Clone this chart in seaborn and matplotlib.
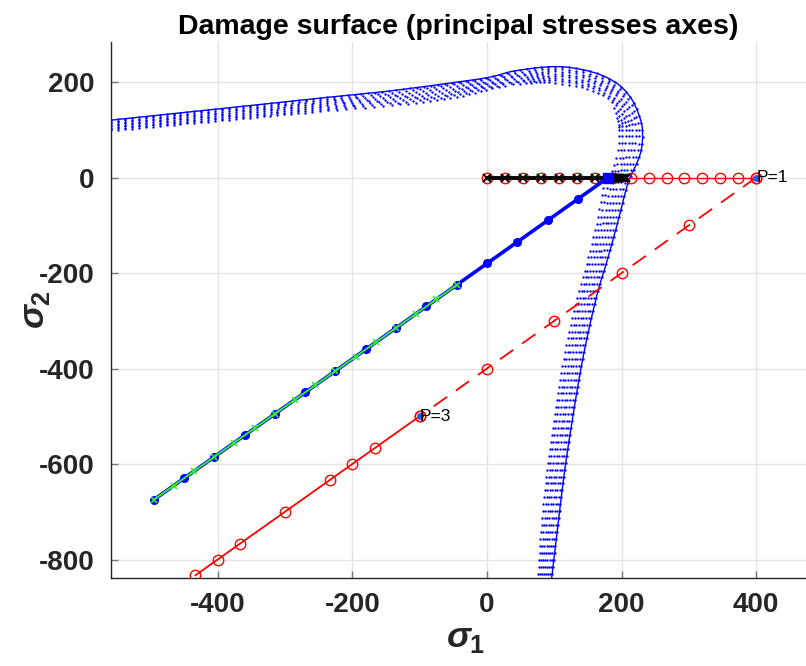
import numpy as np
import pandas as pd
import matplotlib
matplotlib.use("Agg")
import matplotlib.pyplot as plt
import seaborn as sns

# ---------------- data ----------------
# damage surface: outer boundary (solid line) and inner edge of the dotted band
surf_outer_x = [-600, -450, -350, -250, -158, -80, 0, 40, 93, 130, 167, 195, 214, 226, 231, 229, 220, 209,
                194, 177, 165, 151, 139, 127, 116, 106, 96, 93]
surf_outer_y = [114, 136, 151, 166, 179, 193, 209, 223, 232, 229, 216, 195, 166, 130, 98, 57, 22, -13,
                -95, -181, -237, -320, -404, -505, -607, -720, -840, -870]
surf_inner_x = [-600, -450, -350, -250, -130, -50, 19, 60, 93, 130, 160, 182, 190, 194, 194, 192, 185, 173,
                161, 146, 135, 121, 109, 98, 88, 80, 74, 72]
surf_inner_y = [92, 111, 124, 137, 151, 165, 189, 196, 197, 190, 178, 161, 130, 110, 98, 57, 20, -10,
                -95, -181, -237, -320, -404, -505, -607, -720, -840, -870]

# P=1 path along sigma2 = 0 (red circles)
p1_x = [0, 26.7, 53.3, 80, 106.7, 133.3, 160, 186.7, 213.3, 240, 266.7, 293.3, 320, 346.7, 373.3, 400]
p1_y = [0] * 16

# black path (x markers) along sigma2 = 0
blk_x = [0, 26.7, 53.3, 80, 106.7, 133.3, 160, 183, 186, 189, 192, 195, 198, 201, 204, 207]
blk_y = [0] * 16

# red dashed path from P=1 to P=3
dash_x = [400, 300, 200, 100, 0, -100]
dash_y = [0, -100, -200, -300, -400, -500]

# red solid path after P=3
p3_x = [-100, -166.7, -200, -233.3, -300, -366.7, -400, -433.3]
p3_y = [-500, -566.7, -600, -633.3, -700, -766.7, -800, -833.3]

# blue projected path
blue_x = [180, 135, 90, 45, 0, -45, -90, -135, -180, -225, -270, -315, -360, -405, -450, -495]
blue_y = [0, -45, -90, -135, -180, -225, -270, -315, -360, -405, -450, -495, -540, -585, -630, -675]

# green path
green_x = [-45, -75, -105, -135, -165, -195, -225, -255, -285, -315, -345, -375, -405, -435, -465, -495]
green_y = [-225, -255, -285, -315, -345, -375, -405, -435, -465, -495, -525, -555, -585, -615, -645, -675]

labels = {"P=1": (400, 0), "P=3": (-100, -500)}
xticks = [-400, -200, 0, 200, 400]
yticks = [-800, -600, -400, -200, 0, 200]


def smooth(xs, ys, n=16):
    """Catmull-Rom smoothing of a read outline (for drawing only)."""
    p = np.column_stack([xs, ys]).astype(float)
    p = np.vstack([p[0] - (p[1] - p[0]), p, p[-1] + (p[-1] - p[-2])])
    out = []
    u = np.linspace(0, 1, n, endpoint=False)[:, None]
    for i in range(1, len(p) - 2):
        p0, p1, p2, p3 = p[i - 1], p[i], p[i + 1], p[i + 2]
        out.append(0.5 * ((2 * p1) + (-p0 + p2) * u + (2 * p0 - 5 * p1 + 4 * p2 - p3) * u ** 2
                          + (-p0 + 3 * p1 - 3 * p2 + p3) * u ** 3))
    out.append(p[-2][None, :])
    out = np.vstack(out)
    return out[:, 0], out[:, 1]


# ---------------- styling ----------------
sns.set_theme(style="whitegrid")
plt.rcParams["font.family"] = ["Liberation Sans", "DejaVu Sans"]
plt.rcParams["mathtext.fontset"] = "custom"
plt.rcParams["mathtext.it"] = "Liberation Sans:italic:bold"
plt.rcParams["mathtext.rm"] = "Liberation Sans:bold"

fig = plt.figure(figsize=(8.06, 6.66), dpi=100)
ax = fig.add_axes([111 / 806, 1 - 578 / 666, (806 - 111) / 806, (578 - 42) / 666])
ax.set_facecolor("white")

# dotted band of the damage surface
ox, oy = smooth(surf_outer_x, surf_outer_y)
ix, iy = smooth(surf_inner_x, surf_inner_y)
sx, sy = 0.6733, 0.4775  # px per data unit
seg = np.hypot(np.diff(ox) * sx, np.diff(oy) * sy)
s = np.concatenate([[0], np.cumsum(seg)])
rows = np.arange(0, s[-1], 7.0)
rox, roy = np.interp(rows, s, ox), np.interp(rows, s, oy)
rix, riy = np.interp(rows, s, ix), np.interp(rows, s, iy)
t = np.linspace(0.06, 1.0, 8)
dx = (rix[:, None] + (rox - rix)[:, None] * t[None, :]).ravel()
dy = (riy[:, None] + (roy - riy)[:, None] * t[None, :]).ravel()
ax.plot(dx, dy, linestyle="none", marker="o", markersize=1.7, markeredgewidth=0,
        color="#0000ff", zorder=2)
sns.lineplot(x=ox, y=oy, sort=False, estimator=None, color="#0000ff", lw=1.0, ax=ax, zorder=2)

# red P=1 path
sns.lineplot(x=p1_x, y=p1_y, sort=False, estimator=None, color="red", lw=1.0, ax=ax, zorder=3,
             marker="o", markersize=7.5, markerfacecolor="none", markeredgecolor="red", markeredgewidth=1.0)
# black path
ax.plot(blk_x, blk_y, color="black", lw=2.8, marker="x", markersize=5.5, markeredgewidth=1.4, zorder=4)
# red dashed path
ax.plot(dash_x, dash_y, color="red", lw=1.3, linestyle=(0, (9, 6)), marker="o", markersize=7.5,
        markerfacecolor="none", markeredgecolor="red", markeredgewidth=1.0, zorder=3)
# red solid path after P=3
sns.lineplot(x=p3_x, y=p3_y, sort=False, estimator=None, color="red", lw=1.3, ax=ax, zorder=3,
             marker="o", markersize=7.5, markerfacecolor="none", markeredgecolor="red", markeredgewidth=1.0)
# blue projected path
ax.plot(blue_x, blue_y, color="#0000ff", lw=2.6, marker="x", markersize=5, markeredgewidth=1.0, zorder=5)
ax.plot(blue_x, blue_y, linestyle="none", marker="o", markersize=5.5, color="#0000ff", zorder=5)
ax.plot(blue_x[:1], blue_y[:1], linestyle="none", marker="s", markersize=7, color="#0000ff", zorder=6)
# green path
ax.plot(green_x, green_y, color="#33ee33", lw=1.4, marker="x", markersize=5, markeredgewidth=1.2, zorder=6)

# point labels
for name, (lx, ly) in labels.items():
    ax.plot([lx], [ly], marker="o", markersize=4, color="#3355ee", zorder=7)
    ax.text(lx, ly, name, fontsize=12.5, ha="left", va="center", color="black", zorder=8)

# axes
ax.set_xlim(-558.4, 473.8)
ax.set_ylim(-838.7, 283.8)
ax.set_xticks(xticks)
ax.set_yticks(yticks)
ax.set_xticklabels([str(v) for v in xticks])
ax.set_yticklabels([str(v) for v in yticks])
ax.grid(True, color="#e4e4e4", lw=1.0)
for side in ["top", "right"]:
    ax.spines[side].set_visible(False)
for side in ["left", "bottom"]:
    ax.spines[side].set_color("#262626")
    ax.spines[side].set_linewidth(1.0)
ax.tick_params(axis="both", direction="in", length=5, width=1, color="#777777",
               labelsize=20, labelcolor="#262626", left=True, bottom=True)
ax.tick_params(axis="x", pad=10)
ax.tick_params(axis="y", pad=12)
for lbl in ax.get_xticklabels() + ax.get_yticklabels():
    lbl.set_fontweight("bold")

ax.set_title("Damage surface (principal stresses axes)", fontsize=20.5, fontweight="bold",
             color="black", pad=6)
ax.set_xlabel(r"$\sigma_1$", fontsize=26, color="#262626")
ax.set_ylabel(r"$\sigma_2$", fontsize=26, color="#262626")
ax.xaxis.set_label_coords((466 - 111) / 695, (578 - 620) / 536)
ax.yaxis.set_label_coords((52 - 111) / 695, 0.5)

fig.savefig("out.png", dpi=100)
